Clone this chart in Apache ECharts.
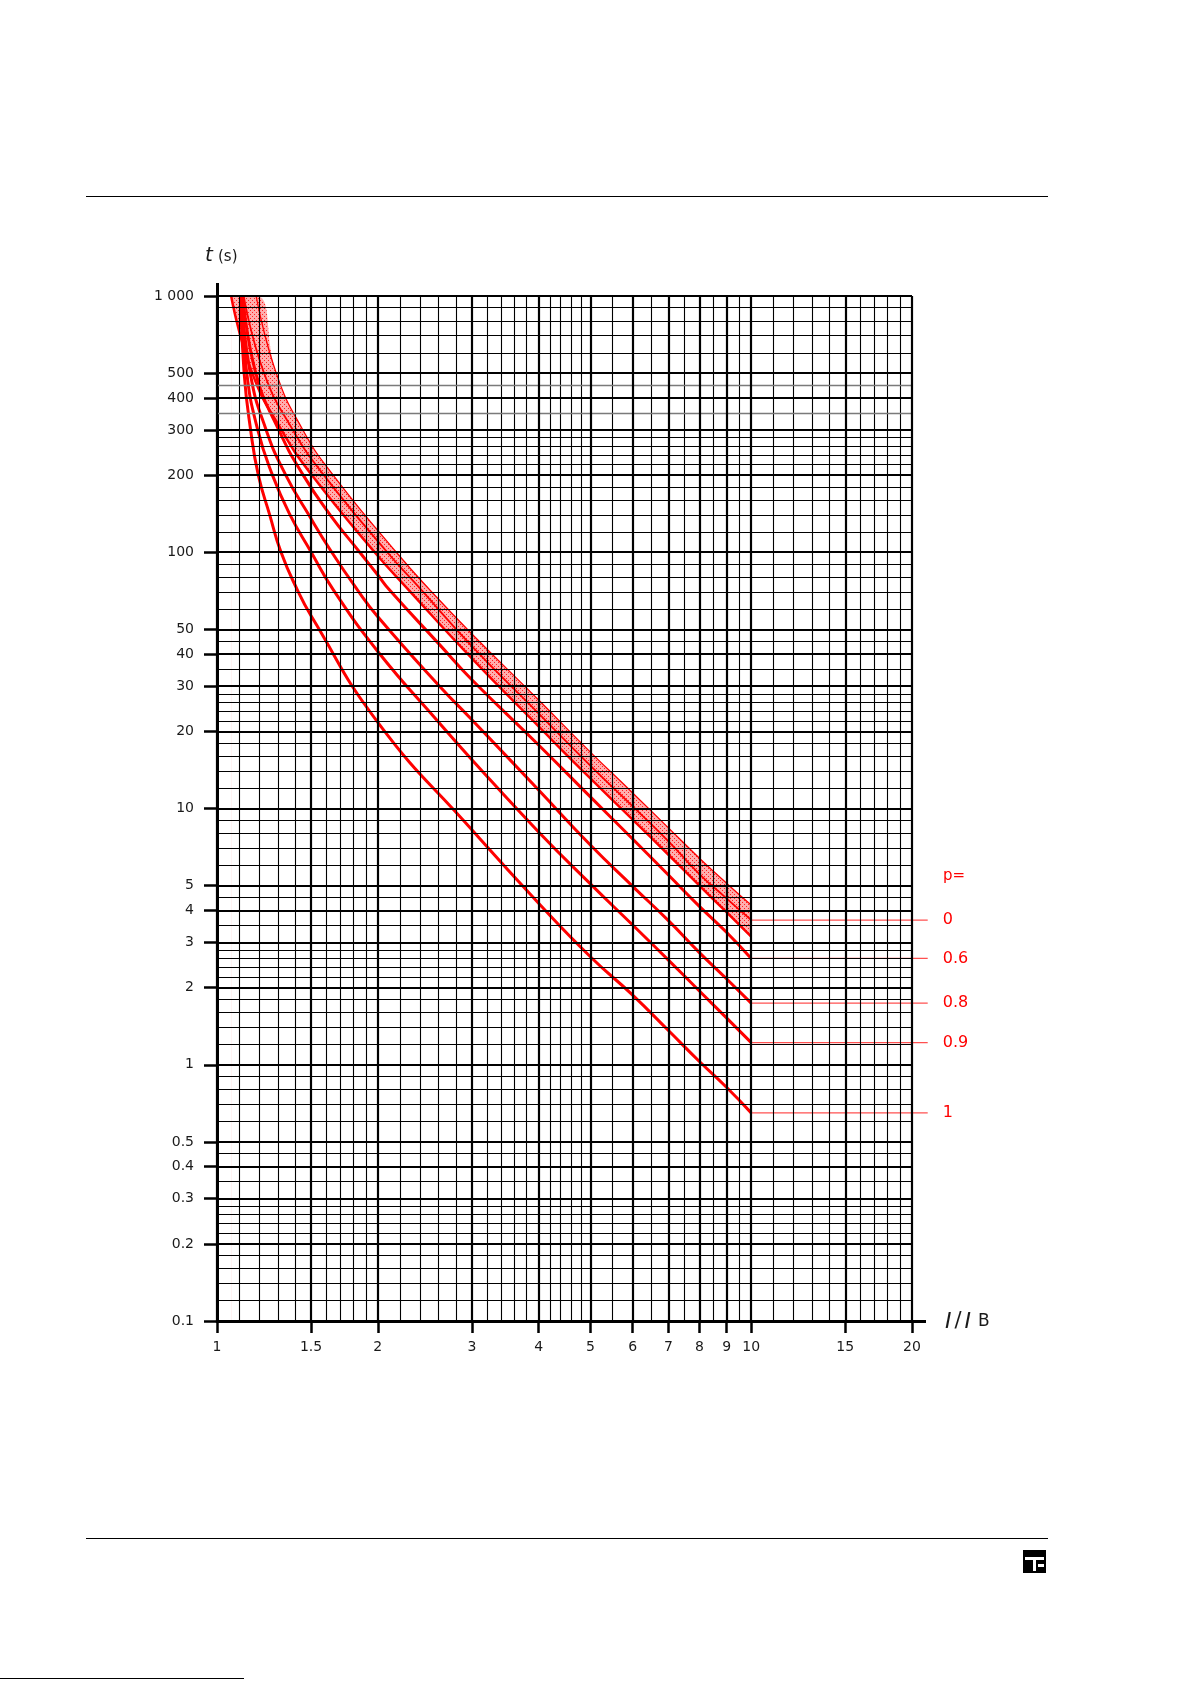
<!DOCTYPE html>
<html>
<head>
<meta charset="utf-8">
<script src="https://cdn.jsdelivr.net/npm/echarts@6.0.0/dist/echarts.min.js"></script>
<style>
html, body { margin: 0; padding: 0; background: #fff; }
#container { width: 1191px; height: 1683px; }
</style>
</head>
<body>
<div id="container"></div>
<script>
// graph paper: labelled (thick) and unlabelled (thin) lines
var xTicks = [1, 1.5, 2, 3, 4, 5, 6, 7, 8, 9, 10, 15, 20];
var xMinor = [1.1, 1.2, 1.3, 1.4, 1.6, 1.7, 1.8, 1.9, 2.2, 2.4, 2.6, 2.8,
  3.2, 3.4, 3.6, 3.8, 4.2, 4.4, 4.6, 4.8, 5.5, 6.5, 7.5, 8.5, 9.5,
  11, 12, 13, 14, 16, 17, 18, 19];
var yTicks = [0.1, 0.2, 0.3, 0.4, 0.5, 1, 2, 3, 4, 5, 10, 20, 30, 40, 50,
  100, 200, 300, 400, 500, 1000];
var yMinor = [0.12, 0.14, 0.16, 0.18, 0.22, 0.24, 0.26, 0.28, 0.35, 0.45,
  0.6, 0.7, 0.8, 0.9, 1.2, 1.4, 1.6, 1.8, 2.2, 2.4, 2.6, 2.8, 3.5, 4.5,
  6, 7, 8, 9, 12, 14, 16, 18, 22, 24, 26, 28, 35, 45, 60, 70, 80, 90,
  120, 140, 160, 180, 220, 240, 260, 280, 600, 700, 800, 900];
var yGrey = [350, 450];

// tripping curves t(s) against I/IB, one per preload p
var p1X = [1.107, 1.124, 1.156, 1.195, 1.255, 1.318, 1.413, 1.5, 2, 3, 4, 5, 6, 7, 8, 9, 10];
var p1T = [1000, 500, 300, 200, 140, 100, 71.5, 56.5, 21.7, 8.26, 4.27, 2.64, 1.87, 1.36, 1.03, 0.815, 0.649];
var p09X = [1.110, 1.137, 1.192, 1.27, 1.37, 1.501, 1.65, 2, 2.61, 3, 4, 5, 6, 7, 8, 9, 10];
var p09T = [1000, 500, 300, 200, 140, 100, 71.5, 41, 21.5, 15.5, 8.1, 5.08, 3.51, 2.56, 1.94, 1.52, 1.22];
var p08X = [1.113, 1.154, 1.236, 1.345, 1.485, 1.64, 1.83, 2, 2.61, 3, 4, 5, 6, 7, 8, 9, 10];
var p08T = [1000, 500, 300, 200, 140, 100, 71.5, 56, 30, 22.2, 11.8, 7.2, 4.97, 3.65, 2.74, 2.16, 1.74];
var p06X = [1.118, 1.182, 1.305, 1.45, 1.628, 1.85, 2, 2.1, 2.61, 3, 4, 5, 6, 7, 8, 9, 10];
var p06T = [1000, 500, 300, 200, 140, 100, 81.5, 71.5, 43.6, 31.8, 17.7, 11.1, 7.6, 5.5, 4.15, 3.28, 2.6];

// cold curve p = 0 with its tolerance band
var p0X = [1.122, 1.225, 1.387, 1.585, 2.083, 2.41, 3, 4, 5, 6, 7, 8, 9, 10];
var p0T = [1000, 500, 300, 200, 100, 71.5, 43, 23.5, 14.7, 10.2, 7.45, 5.55, 4.45, 3.67];
var bandHiX = [1.184, 1.291, 1.448, 1.65, 2.166, 2.5, 3, 4, 5, 6, 7, 8, 9, 10];
var bandHiT = [1000, 500, 300, 200, 100, 71.5, 48, 26.5, 16.6, 11.5, 8.4, 6.4, 5.1, 4.2];
var bandLoX = [1.063, 1.164, 1.32, 1.505, 1.973, 2.281, 3, 4, 5, 6, 7, 8, 9, 10];
var bandLoT = [1000, 500, 300, 200, 100, 71.5, 38.5, 20.9, 13.1, 9.05, 6.6, 5.0, 3.93, 3.16];

// labels at the right hand side
var pLabels = ['0', '0.6', '0.8', '0.9', '1'];
var leaderEndX = 21.4;

var FONT = 'DejaVu Sans';
var RED = '#ff0000';
var INK = '#1a1a1a';
var PLOT = { left: 217, top: 296, width: 695, height: 1025 };

function pairs(xs, ts) {
  return xs.map(function (x, i) { return [x, ts[i]]; });
}
function fmt(v) {
  var s = +(+v).toPrecision(6);
  return s === 1000 ? '1 000' : String(s);
}

// stipple used for the tolerance band
var hatch = document.createElement('canvas');
hatch.width = 4; hatch.height = 4;
(function () {
  var c = hatch.getContext('2d');
  c.fillStyle = 'rgba(255,120,120,0.6)';
  c.fillRect(0, 0, 4, 4);
  c.fillStyle = 'rgba(255,20,20,0.9)';
  c.fillRect(0, 0, 1, 1);
  c.fillRect(2, 2, 1, 1);
})();

var gridLines = [];
xMinor.forEach(function (v) { gridLines.push({ xAxis: v, lineStyle: { width: 1.1 } }); });
yMinor.forEach(function (v) { gridLines.push({ yAxis: v, lineStyle: { width: 1.1 } }); });
yGrey.forEach(function (v) { gridLines.push({ yAxis: v, lineStyle: { width: 1.3, color: '#7a7a7a' } }); });
xTicks.forEach(function (v) { gridLines.push({ xAxis: v, lineStyle: { width: 2.2 } }); });
yTicks.forEach(function (v) { gridLines.push({ yAxis: v, lineStyle: { width: 2.2 } }); });

function curve(name, xs, ts, width) {
  return {
    name: name, type: 'line', data: pairs(xs, ts),
    symbol: 'none', smooth: 0.5, silent: true, z: 4,
    lineStyle: { color: RED, width: width }
  };
}

// leader lines run a little past the frame, so they sit on a wider twin grid
var ends = [p0T, p06T, p08T, p09T, p1T].map(function (t) { return t[t.length - 1]; });
var leaders = ends.map(function (t, i) {
  return {
    name: 'p=' + pLabels[i], type: 'line', data: [[10, t], [leaderEndX, t]],
    xAxisIndex: 2, yAxisIndex: 2,
    symbol: 'none', silent: true, z: 4,
    lineStyle: { color: '#ff5050', width: 1.3 },
    endLabel: {
      show: true, distance: 15, color: RED, fontFamily: FONT, fontSize: 16,
      formatter: function () { return pLabels[i]; }
    }
  };
});

var dom = document.getElementById('container');
var myChart = echarts.init(dom);
var option = {
  animation: false,
  backgroundColor: '#fff',
  grid: [
    { left: PLOT.left, top: PLOT.top, width: PLOT.width, height: PLOT.height, show: false },
    {
      left: PLOT.left, top: PLOT.top, height: PLOT.height, show: false,
      width: PLOT.width * Math.log(leaderEndX) / Math.log(20)
    }
  ],
  xAxis: [
    {
      type: 'log', logBase: 10, min: 1, max: 20, position: 'bottom',
      axisLine: { lineStyle: { color: '#000', width: 3 } },
      axisTick: { customValues: xTicks, length: 12, lineStyle: { color: '#000', width: 2.5 } },
      axisLabel: { customValues: xTicks, margin: 19, fontFamily: FONT, fontSize: 14, color: INK, formatter: fmt },
      splitLine: { show: false }, minorTick: { show: false }
    },
    {
      type: 'log', logBase: 10, min: 1, max: 20, position: 'top',
      axisLine: { show: false },
      axisTick: { customValues: [1], length: 13, lineStyle: { color: '#000', width: 3 } },
      axisLabel: { show: false }, splitLine: { show: false }
    },
    { type: 'log', logBase: 10, min: 1, max: leaderEndX, gridIndex: 1, show: false }
  ],
  yAxis: [
    {
      type: 'log', logBase: 10, min: 0.1, max: 1000, position: 'left',
      axisLine: { lineStyle: { color: '#000', width: 3 } },
      axisTick: { customValues: yTicks, length: 13, lineStyle: { color: '#000', width: 2.5 } },
      axisLabel: { customValues: yTicks, margin: 23, fontFamily: FONT, fontSize: 14, color: INK, formatter: fmt },
      splitLine: { show: false }, minorTick: { show: false }
    },
    {
      type: 'log', logBase: 10, min: 0.1, max: 1000, position: 'right',
      axisLine: { show: false },
      axisTick: { customValues: [0.1], length: 14, lineStyle: { color: '#000', width: 3 } },
      axisLabel: { show: false }, splitLine: { show: false }
    },
    { type: 'log', logBase: 10, min: 0.1, max: 1000, gridIndex: 1, show: false }
  ],
  graphic: [
    { type: 'line', shape: { x1: 86, y1: 196.5, x2: 1048, y2: 196.5 }, style: { stroke: '#000', lineWidth: 1 } },
    { type: 'line', shape: { x1: 86, y1: 1538.5, x2: 1048, y2: 1538.5 }, style: { stroke: '#000', lineWidth: 1 } },
    { type: 'line', shape: { x1: 0, y1: 1678.5, x2: 244, y2: 1678.5 }, style: { stroke: '#000', lineWidth: 1 } },
    {
      type: 'group', x: 1023, y: 1550, children: [
        { type: 'rect', shape: { x: 0, y: 0, width: 23, height: 23 }, style: { fill: '#000' } },
        { type: 'rect', shape: { x: 2, y: 7, width: 19, height: 3 }, style: { fill: '#fff' } },
        { type: 'rect', shape: { x: 10, y: 10, width: 3, height: 11 }, style: { fill: '#fff' } },
        { type: 'rect', shape: { x: 15, y: 14, width: 6, height: 3 }, style: { fill: '#fff' } }
      ]
    },
    {
      type: 'text', x: 205, y: 256,
      style: { text: 't', fontFamily: FONT, fontStyle: 'italic', fontSize: 20, fill: INK, verticalAlign: 'middle' }
    },
    {
      type: 'text', x: 218, y: 257,
      style: { text: '(s)', fontFamily: FONT, fontSize: 15, fill: INK, verticalAlign: 'middle' }
    },
    {
      type: 'text', x: 945, y: 1322,
      style: {
        text: '{i|I}{n|/}{i|I}{b|B}', fill: INK, verticalAlign: 'middle',
        rich: {
          i: { fontFamily: FONT, fontStyle: 'italic', fontSize: 22, fill: INK, padding: [0, 2, 0, 0] },
          n: { fontFamily: FONT, fontSize: 21, fill: INK, padding: [0, 3, 0, 1] },
          b: { fontFamily: FONT, fontSize: 17, fill: INK, padding: [0, 0, 0, 5] }
        }
      }
    },
    {
      type: 'text', x: 943, y: 876,
      style: { text: 'p=', fontFamily: FONT, fontSize: 15, fill: RED, verticalAlign: 'middle' }
    }
  ],
  series: [
    {
      name: 'band', type: 'line', z: 0, silent: true, symbol: 'none', smooth: 0.5,
      data: [[bandLoX[0], bandHiT[0]]].concat(pairs(bandHiX, bandHiT)),
      lineStyle: { width: 0 },
      areaStyle: { origin: 'start', color: { image: hatch, repeat: 'repeat' }, opacity: 1 }
    },
    {
      name: 'band-lo-mask', type: 'line', z: 0, silent: true, symbol: 'none', smooth: 0.5,
      data: pairs(bandLoX, bandLoT),
      lineStyle: { width: 0 },
      areaStyle: { origin: 'start', color: '#fff', opacity: 1 }
    },
    {
      name: 'grid', type: 'line', data: [], z: 2, silent: true,
      markLine: {
        silent: true, symbol: ['none', 'none'], label: { show: false },
        lineStyle: { type: 'solid', color: '#000', width: 1 },
        data: gridLines
      }
    },
    curve('band hi', bandHiX, bandHiT, 1.3),
    curve('band lo', bandLoX, bandLoT, 2.5),
    curve('p=0', p0X, p0T, 1.8),
    curve('p=0.6', p06X, p06T, 3),
    curve('p=0.8', p08X, p08T, 3),
    curve('p=0.9', p09X, p09T, 3),
    curve('p=1', p1X, p1T, 3)
  ].concat(leaders)
};
myChart.setOption(option, true);
</script>
</body>
</html>
